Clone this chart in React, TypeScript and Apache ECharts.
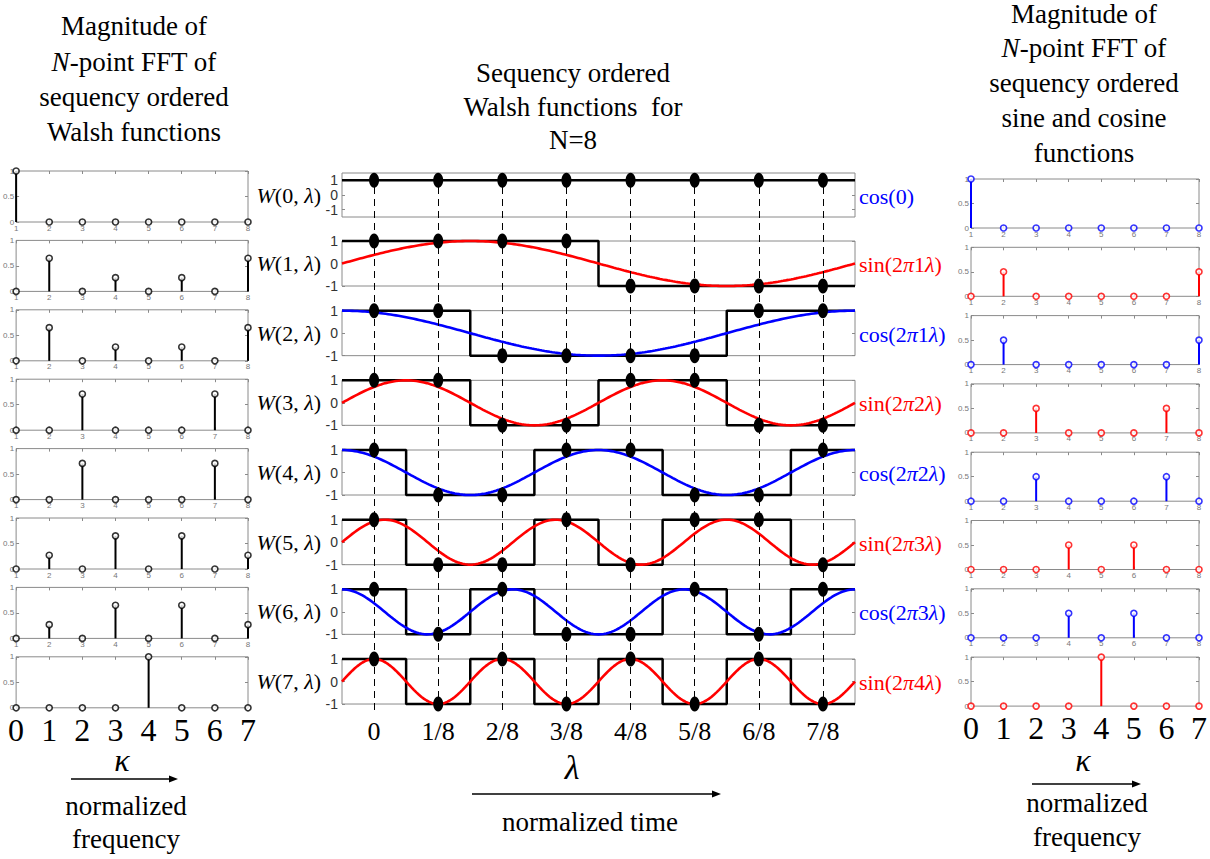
import React, { useEffect, useRef } from 'react';
import * as echarts from 'echarts';

// ---------- data ----------
const kTicks = [1, 2, 3, 4, 5, 6, 7, 8];
const freqDigits = ['0', '1', '2', '3', '4', '5', '6', '7'];
const timeLabels = ['0', '1/8', '2/8', '3/8', '4/8', '5/8', '6/8', '7/8'];
const samplePositions = [0.5, 1.5, 2.5, 3.5, 4.5, 5.5, 6.5, 7.5];

const walsh = [
  [1, 1, 1, 1, 1, 1, 1, 1],
  [1, 1, 1, 1, -1, -1, -1, -1],
  [1, 1, -1, -1, -1, -1, 1, 1],
  [1, 1, -1, -1, 1, 1, -1, -1],
  [1, -1, -1, 1, 1, -1, -1, 1],
  [1, -1, -1, 1, -1, 1, 1, -1],
  [1, -1, 1, -1, -1, 1, -1, 1],
  [1, -1, 1, -1, 1, -1, 1, -1],
];

const walshFftMag = [
  [1, 0, 0, 0, 0, 0, 0, 0],
  [0, 0.65, 0, 0.27, 0, 0.27, 0, 0.65],
  [0, 0.65, 0, 0.27, 0, 0.27, 0, 0.65],
  [0, 0, 0.71, 0, 0, 0, 0.71, 0],
  [0, 0, 0.71, 0, 0, 0, 0.71, 0],
  [0, 0.27, 0, 0.65, 0, 0.65, 0, 0.27],
  [0, 0.27, 0, 0.65, 0, 0.65, 0, 0.27],
  [0, 0, 0, 0, 1, 0, 0, 0],
];

const trigFftMag = [
  [1, 0, 0, 0, 0, 0, 0, 0],
  [0, 0.5, 0, 0, 0, 0, 0, 0.5],
  [0, 0.5, 0, 0, 0, 0, 0, 0.5],
  [0, 0, 0.5, 0, 0, 0, 0.5, 0],
  [0, 0, 0.5, 0, 0, 0, 0.5, 0],
  [0, 0, 0, 0.5, 0, 0.5, 0, 0],
  [0, 0, 0, 0.5, 0, 0.5, 0, 0],
  [0, 0, 0, 0, 1, 0, 0, 0],
];

const trigKind = ['cos', 'sin', 'cos', 'sin', 'cos', 'sin', 'cos', 'sin'];
const trigFreq = [0, 1, 1, 2, 2, 3, 3, 4];

const leftTitle = ['Magnitude of', '{i|N}-point FFT of', 'sequency ordered', 'Walsh functions'];
const midTitle = ['Sequency ordered', 'Walsh functions  for', 'N=8'];
const rightTitle = ['Magnitude of', '{i|N}-point FFT of', 'sequency ordered', 'sine and cosine', 'functions'];

// ---------- styling ----------
const SERIF = "Liberation Serif";
const SANS = "Liberation Sans";
const RED = '#ff0000';
const BLUE = '#0000ff';
const FRAME = '#8a8a8a';

// wrap plain parts of a string into {n|...} tokens so every piece gets an explicit font
const tokenize = (s: string) =>
  s
    .split(/(\{i\|[^}]*\})/)
    .filter((p) => p.length > 0)
    .map((p) => (p.startsWith('{i|') ? p : `{n|${p}}`))
    .join('');

function richText(x: number, y: number, text: string, size: number, fill: string, align: string, italicAll = false) {
  return {
    type: 'text', x, y, z: 10,
    style: {
      text: tokenize(text), fill, align, verticalAlign: 'middle',
      font: `${italicAll ? 'italic ' : ''}${size}px ${SERIF}`,
      fontSize: size, fontFamily: SERIF,
      rich: {
        n: { fontSize: size, fontFamily: SERIF, fontStyle: italicAll ? 'italic' : 'normal', fill },
        i: { fontSize: size, fontFamily: SERIF, fontStyle: 'italic', fill },
      },
    },
  };
}

function buildOption() {
  const grid: any[] = [];
  const xAxis: any[] = [];
  const yAxis: any[] = [];
  const series: any[] = [];
  const graphic: any[] = [];

  const addStem = (gTop: number, left: number, width: number, height: number, values: number[], color: string, last: boolean) => {
    const g = grid.length;
    grid.push({ left, top: gTop, width, height, show: true, borderColor: FRAME, borderWidth: 1 });
    const xi = xAxis.length;
    xAxis.push({
      type: 'value', gridIndex: g, position: 'bottom', min: 1, max: 8, interval: 1,
      axisLine: { show: false, onZero: false }, splitLine: { show: false },
      axisTick: { inside: true, length: 3, lineStyle: { color: FRAME } },
      axisLabel: last
        ? { fontSize: 32, color: '#000', margin: 6, fontFamily: SERIF, formatter: (v: number) => freqDigits[v - 1] }
        : { fontSize: 8, color: '#777', margin: 2, fontFamily: SANS },
    });
    xAxis.push({
      type: 'value', gridIndex: g, position: 'top', min: 1, max: 8, interval: 1,
      axisLine: { show: false, onZero: false }, splitLine: { show: false },
      axisTick: { inside: true, length: 3, lineStyle: { color: FRAME } },
      axisLabel: { show: false },
    });
    const yi = yAxis.length;
    yAxis.push({
      type: 'value', gridIndex: g, position: 'left', min: 0, max: 1, interval: 0.5,
      axisLine: { show: false, onZero: false }, splitLine: { show: false },
      axisTick: { inside: true, length: 3, lineStyle: { color: FRAME } },
      axisLabel: { fontSize: 8, color: '#777', margin: 2, fontFamily: SANS },
    });
    yAxis.push({
      type: 'value', gridIndex: g, position: 'right', min: 0, max: 1, interval: 0.5,
      axisLine: { show: false, onZero: false }, splitLine: { show: false },
      axisTick: { inside: true, length: 3, lineStyle: { color: FRAME } },
      axisLabel: { show: false },
    });
    const data = values.map((v, k) => [kTicks[k], v]);
    series.push({ type: 'bar', xAxisIndex: xi, yAxisIndex: yi, data, barWidth: 2, itemStyle: { color }, clip: false, silent: true, z: 2 });
    series.push({
      type: 'scatter', xAxisIndex: xi, yAxisIndex: yi, data, symbol: 'circle', symbolSize: 6,
      itemStyle: { color: '#fff', borderColor: color, borderWidth: 1.6 }, clip: false, silent: true, z: 3,
    });
  };

  // left column
  for (let i = 0; i < 8; i++) addStem(171 + 69.4 * i, 16, 232, 51, walshFftMag[i], '#000', i === 7);
  // right column
  for (let i = 0; i < 8; i++) addStem(179 + 68.3 * i, 971, 228, 49, trigFftMag[i], trigKind[i] === 'cos' ? BLUE : RED, i === 7);

  // middle column
  for (let i = 0; i < 8; i++) {
    const top = i === 0 ? 173 : 241 + 69.67 * (i - 1);
    const height = i === 0 ? 44 : 45;
    const g = grid.length;
    grid.push({ left: 342, top, width: 513, height, show: true, borderColor: FRAME, borderWidth: 1 });
    const xi = xAxis.length;
    const last = i === 7;
    xAxis.push({
      type: 'value', gridIndex: g, position: 'bottom', min: 0, max: 8,
      axisLine: { show: false, onZero: false }, splitLine: { show: false }, axisTick: { show: false },
      axisLabel: last
        ? { show: true, customValues: samplePositions, fontSize: 26, color: '#000', margin: 14, fontFamily: SERIF,
            formatter: (v: number) => timeLabels[Math.round(v - 0.5)] }
        : { show: false },
    });
    const yr = i === 0 ? 1.5 : 1;
    const yi = yAxis.length;
    yAxis.push({
      type: 'value', gridIndex: g, position: 'left', min: -yr, max: yr,
      axisLine: { show: false, onZero: false }, splitLine: { show: false },
      axisTick: { show: true, inside: true, length: 3, customValues: [-1, 0, 1], lineStyle: { color: FRAME } },
      axisLabel: { customValues: [-1, 0, 1], fontSize: 14, color: '#333', margin: 4, fontFamily: SANS },
    });
    yAxis.push({
      type: 'value', gridIndex: g, position: 'right', min: -yr, max: yr,
      axisLine: { show: false, onZero: false }, splitLine: { show: false },
      axisTick: { show: true, inside: true, length: 3, customValues: [-1, 0, 1], lineStyle: { color: FRAME } },
      axisLabel: { show: false },
    });
    const w = walsh[i];
    const stepData = w.map((v, k) => [k, v]).concat([[8, w[7]]]);
    series.push({
      type: 'line', xAxisIndex: xi, yAxisIndex: yi, data: stepData, step: 'end', showSymbol: false,
      lineStyle: { color: '#000', width: 2.5 }, clip: false, silent: true, z: 3,
    });
    if (trigFreq[i] > 0) {
      const f = trigFreq[i];
      const curve: number[][] = [];
      for (let s = 0; s <= 200; s++) {
        const t = (8 * s) / 200;
        const ph = (2 * Math.PI * f * t) / 8;
        curve.push([t, trigKind[i] === 'cos' ? Math.cos(ph) : Math.sin(ph)]);
      }
      series.push({
        type: 'line', xAxisIndex: xi, yAxisIndex: yi, data: curve, showSymbol: false, smooth: false,
        lineStyle: { color: trigKind[i] === 'cos' ? BLUE : RED, width: 2.6 }, clip: false, silent: true, z: 4,
      });
    }
    series.push({
      type: 'scatter', xAxisIndex: xi, yAxisIndex: yi, data: samplePositions.map((x, k) => [x, w[k]]),
      symbol: 'circle', symbolSize: [10, 15], itemStyle: { color: '#000', opacity: 1 }, clip: false, silent: true, z: 5,
    });

    const cy = top + height / 2;
    graphic.push(richText(321, cy, `{i|W}(${i}, {i|λ})`, 22, '#000', 'right'));
    const col = trigKind[i] === 'cos' ? BLUE : RED;
    const lbl = trigFreq[i] === 0 ? `${trigKind[i]}(0)` : `${trigKind[i]}(2{i|π}${trigFreq[i]}{i|λ})`;
    graphic.push(richText(859, cy + 1, lbl, 22, col, 'left'));
  }

  // dashed guide lines across the middle column
  {
    const g = grid.length;
    grid.push({ left: 342, top: 180, width: 513, height: 530, show: false });
    const xi = xAxis.length;
    xAxis.push({ type: 'value', gridIndex: g, min: 0, max: 8, show: false });
    const yi = yAxis.length;
    yAxis.push({ type: 'value', gridIndex: g, min: -1, max: 1, show: false });
    series.push({
      type: 'line', xAxisIndex: xi, yAxisIndex: yi, data: samplePositions.map((x) => [x, 0]),
      showSymbol: false, lineStyle: { opacity: 0 }, silent: true, z: 1,
      markLine: {
        silent: true, symbol: ['none', 'none'], label: { show: false },
        lineStyle: { type: [7, 5], color: '#000', width: 1 },
        data: samplePositions.map((x) => ({ xAxis: x })),
      },
    });
  }

  const txt = (x: number, y: number, text: string, size = 27, italic = false) =>
    richText(x, y, text, size, '#000', 'center', italic);

  const leftY = [26, 62, 97, 132];
  leftTitle.forEach((t, k) => graphic.push(txt(134, leftY[k], t)));
  const midY = [73, 107, 140];
  midTitle.forEach((t, k) => graphic.push(txt(573, midY[k], t)));
  const rightY = [14, 48, 83, 118, 153];
  rightTitle.forEach((t, k) => graphic.push(txt(1084, rightY[k], t)));

  // bottom annotations
  graphic.push(txt(122, 760, 'κ', 32, true));
  graphic.push(txt(1083, 760, 'κ', 32, true));
  graphic.push(txt(572, 767, 'λ', 34, true));
  graphic.push(txt(126, 806, 'normalized'));
  graphic.push(txt(126, 839, 'frequency'));
  graphic.push(txt(1087, 803, 'normalized'));
  graphic.push(txt(1087, 837, 'frequency'));
  graphic.push(txt(590, 822, 'normalized time'));

  const arrow = (x1: number, x2: number, y: number) => {
    graphic.push({ type: 'line', z: 10, shape: { x1, y1: y, x2: x2 - 6, y2: y }, style: { stroke: '#000', lineWidth: 1.5 } });
    graphic.push({ type: 'polygon', z: 10, shape: { points: [[x2, y], [x2 - 9, y - 3.5], [x2 - 9, y + 3.5]] }, style: { fill: '#000' } });
  };
  arrow(71, 178, 779);
  arrow(1032, 1141, 784);
  arrow(472, 721, 794);

  return {
    animation: false,
    backgroundColor: '#fff',
    grid,
    xAxis,
    yAxis,
    series,
    graphic,
  };
}

export default function App() {
  const ref = useRef<HTMLDivElement>(null);
  useEffect(() => {
    if (!ref.current) return;
    const chart = echarts.init(ref.current, undefined, { renderer: 'svg' });
    chart.setOption(buildOption() as any);
    return () => chart.dispose();
  }, []);
  return <div ref={ref} style={{ position: 'fixed', left: 0, top: 0, width: 1210, height: 859 }} />;
}
